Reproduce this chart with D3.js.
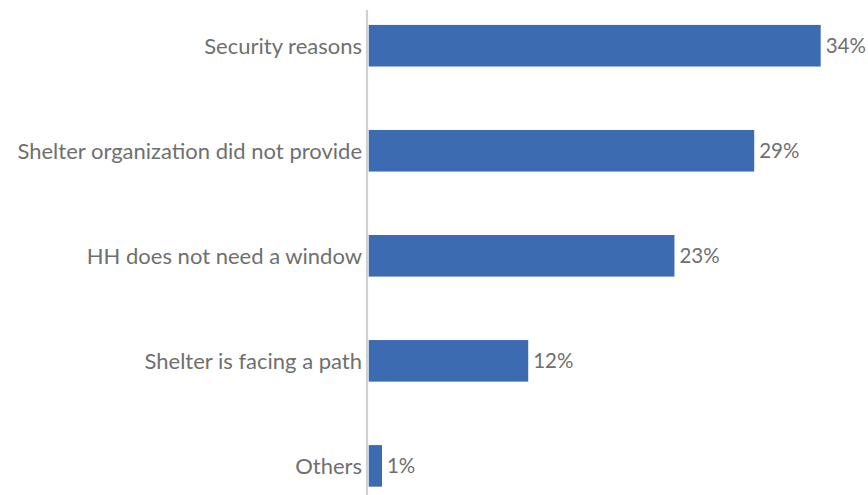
<!DOCTYPE html>
<html>
<head>
<meta charset="utf-8">
<script src="https://cdn.jsdelivr.net/npm/d3@7"></script>
<style>
  html, body { margin: 0; padding: 0; background: #ffffff; }
  svg { display: block; }
  text { font-family: "Lato", "Open Sans", sans-serif; fill: #6f6f6f; }
</style>
</head>
<body>
<svg id="chart" width="868" height="495"></svg>
<script>
// Reasons given for the shelter having no window (share of households)
const categories = [
  "Security reasons",
  "Shelter organization did not provide",
  "HH does not need a window",
  "Shelter is facing a path",
  "Others"
];
const values = [34, 29, 23, 12, 1];
const valueLabels = ["34%", "29%", "23%", "12%", "1%"];

const svg = d3.select("#chart");
const axisX = 367;
const fontSize = 22;
const valueFontSize = 20.5;

const x = d3.scaleLinear()
  .domain([0, 34])
  .range([axisX + 1.7, 820.7]);

const y = d3.scaleBand()
  .domain(categories)
  .range([-6.8, 518.4])
  .paddingInner(0.604)
  .paddingOuter(0.302);

// Bars
svg.append("g")
  .selectAll("rect")
  .data(categories)
  .join("rect")
  .attr("x", x(0))
  .attr("y", d => y(d))
  .attr("width", (d, i) => x(values[i]) - x(0))
  .attr("height", y.bandwidth())
  .attr("fill", "#3c6bb2");

// Category axis (line only, no ticks)
const yAxis = d3.axisLeft(y).tickSize(0).tickPadding(5);
const gAxis = svg.append("g")
  .attr("transform", `translate(${axisX},0)`)
  .call(yAxis);
gAxis.select(".domain").remove();
gAxis.append("line")
  .attr("x1", 0).attr("x2", 0)
  .attr("y1", 10).attr("y2", 495)
  .attr("stroke", "#d0d0d0")
  .attr("stroke-width", 2.2);
gAxis.selectAll(".tick text")
  .attr("font-size", fontSize)
  .attr("font-family", "Lato, 'Open Sans', sans-serif")
  .attr("fill", "#6f6f6f")
  .attr("dy", "0.36em");

// Value labels at bar ends
svg.append("g")
  .selectAll("text")
  .data(categories)
  .join("text")
  .attr("x", (d, i) => x(values[i]) + 5)
  .attr("y", d => y(d) + y.bandwidth() / 2)
  .attr("dy", "0.36em")
  .attr("font-size", valueFontSize)
  .text((d, i) => valueLabels[i]);
</script>
</body>
</html>
